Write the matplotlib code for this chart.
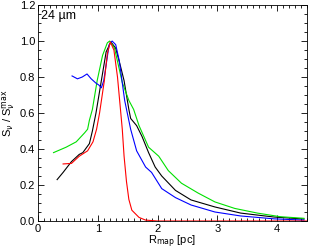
import numpy as np
import matplotlib.pyplot as plt
from matplotlib.ticker import MultipleLocator

plt.rcParams['font.family'] = ['Liberation Sans', 'DejaVu Sans']

# Perfiles normalizados
r_red = [0.42, 0.56, 0.69, 0.83, 0.92, 0.98, 1.03, 1.11, 1.16, 1.21, 1.27, 1.33, 1.41,
         1.44, 1.48, 1.52, 1.57, 1.69, 1.80, 2.0, 3.0, 4.5]
s_red = [0.317, 0.32, 0.36, 0.39, 0.44, 0.51, 0.60, 0.78, 0.93, 0.995, 0.95, 0.80, 0.51,
         0.36, 0.22, 0.12, 0.06, 0.02, 0.005, 0.0, 0.0, 0.0]

r_black = [0.32, 0.42, 0.56, 0.69, 0.75, 0.86, 0.91, 0.97, 1.06, 1.14, 1.22, 1.30,
           1.38, 1.44, 1.52, 1.55, 1.65, 1.74, 1.85, 1.96, 2.07, 2.30, 2.56, 2.96, 3.39,
           3.95, 4.45]
s_black = [0.23, 0.27, 0.33, 0.37, 0.38, 0.43, 0.50, 0.60, 0.78, 0.94, 0.995, 0.96,
           0.86, 0.78, 0.62, 0.57, 0.53, 0.47, 0.38, 0.30, 0.25, 0.17, 0.117, 0.078, 0.044,
           0.022, 0.011]

r_green = [0.26, 0.47, 0.64, 0.78, 0.83, 0.86, 0.91, 0.99, 1.08, 1.16, 1.20, 1.28, 1.41,
           1.52, 1.60, 1.69, 1.85, 2.02, 2.18, 2.40, 2.68, 2.96, 3.29, 3.67, 4.05, 4.45]
s_green = [0.38, 0.41, 0.44, 0.49, 0.51, 0.56, 0.62, 0.78, 0.92, 0.99, 1.0, 0.96, 0.77,
           0.67, 0.62, 0.53, 0.41, 0.36, 0.28, 0.21, 0.155, 0.106, 0.07, 0.044, 0.024, 0.015]

r_blue = [0.57, 0.66, 0.74, 0.82, 0.89, 0.97, 1.02, 1.06, 1.10, 1.15, 1.19, 1.24, 1.30,
          1.36, 1.45, 1.55, 1.65, 1.80, 1.90, 2.07, 2.30, 2.56,
          2.96, 3.39, 3.95, 4.45]
s_blue = [0.806, 0.79, 0.80, 0.817, 0.79, 0.766, 0.755, 0.74, 0.78, 0.89, 0.98, 1.0, 0.98,
          0.89, 0.67, 0.51, 0.39, 0.30, 0.27, 0.18, 0.13, 0.089,
          0.05, 0.028, 0.012, 0.005]

fig = plt.figure(figsize=(3.15, 2.52), dpi=100)
ax = fig.add_axes([0.1206, 0.123, 0.854, 0.857])

ax.plot(r_black, s_black, color="black", lw=0.8)
ax.plot(r_green, s_green, color="#00e000", lw=0.8)
ax.plot(r_blue, s_blue, color="blue", lw=0.8)
ax.plot(r_red, s_red, color="red", lw=0.8)

ax.set_xlim(0, 4.5)
ax.set_ylim(0, 1.2)
ax.xaxis.set_major_locator(MultipleLocator(1))
ax.xaxis.set_minor_locator(MultipleLocator(0.1))
ax.yaxis.set_major_locator(MultipleLocator(0.2))
ax.yaxis.set_minor_locator(MultipleLocator(0.05))
ax.yaxis.set_major_formatter(plt.FormatStrFormatter("%.1f"))
ax.tick_params(which="both", direction="in", top=True, right=True, labelsize=8, width=0.6)
ax.tick_params(which="major", length=4, pad=2)
ax.tick_params(which="minor", length=2)
for s in ax.spines.values():
    s.set_linewidth(0.6)

ax.set_xlabel(r"R$_{\rm map}$ [pc]", fontsize=8)
ax.xaxis.set_label_coords(0.5, -0.06)
ax.set_ylabel(r"S$_\nu$ / S$_\nu^{\rm max}$", fontsize=8)
ax.yaxis.set_label_coords(-0.078, 0.5)
ax.text(0.012, 0.975, "24 µm", transform=ax.transAxes, fontsize=9, ha="left", va="top")

fig.savefig("out.png", dpi=100)
